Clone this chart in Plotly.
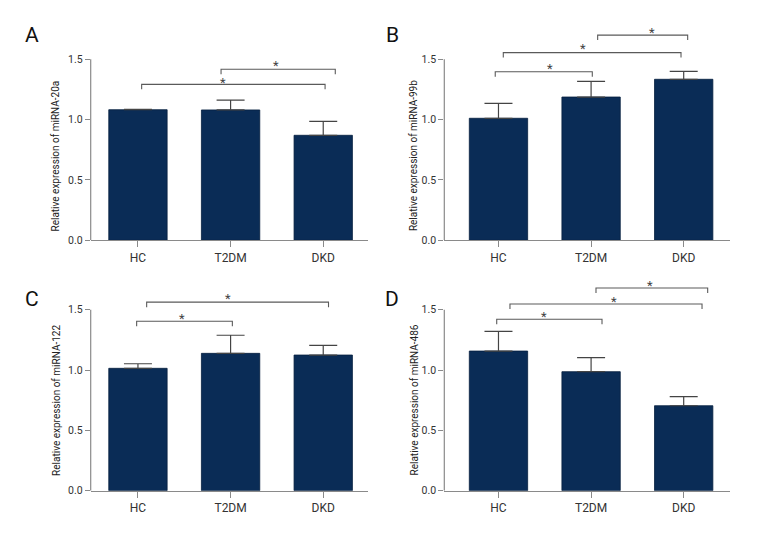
import plotly.graph_objects as go

# ---------------- data ----------------
categories = ["HC", "T2DM", "DKD"]

panel_letters = ["A", "B", "C", "D"]
y_titles = [
    "Relative expression of miRNA-20a",
    "Relative expression of miRNA-99b",
    "Relative expression of miRNA-122",
    "Relative expression of miRNA-486",
]

mir20a_mean = [1.082, 1.080, 0.870]
mir20a_err = [0.003, 0.082, 0.116]

mir99b_mean = [1.011, 1.187, 1.334]
mir99b_err = [0.124, 0.130, 0.066]

mir122_mean = [1.014, 1.138, 1.124]
mir122_err = [0.038, 0.150, 0.080]

mir486_mean = [1.157, 0.986, 0.704]
mir486_err = [0.163, 0.116, 0.075]

y_tick_vals = [0.0, 0.5, 1.0, 1.5]
y_tick_text = ["0.0", "0.5", "1.0", "1.5"]

# significance brackets: (x start, x end, level, star x, star y) in category / value units
mir20a_brackets = [(0.04, 2.02, 1.292, 0.915, 1.336), (0.897, 2.13, 1.417, 1.49, 1.469)]
mir99b_brackets = [(-0.035, 1.013, 1.397, 0.556, 1.447), (0.052, 1.971, 1.555, 0.916, 1.618),
                   (1.071, 2.043, 1.700, 1.661, 1.748)]
mir122_brackets = [(-0.014, 1.019, 1.404, 0.472, 1.450), (0.094, 2.057, 1.562, 0.976, 1.616)]
mir486_brackets = [(-0.019, 1.118, 1.420, 0.495, 1.466), (0.124, 2.198, 1.547, 1.25, 1.594),
                   (1.053, 2.259, 1.680, 1.636, 1.728)]

means = [mir20a_mean, mir99b_mean, mir122_mean, mir486_mean]
errs = [mir20a_err, mir99b_err, mir122_err, mir486_err]
brackets = [mir20a_brackets, mir99b_brackets, mir122_brackets, mir486_brackets]

# ---------------- layout ----------------
W, H = 780, 540
FONT = "Roboto, Liberation Sans, sans-serif"
BAR = "#0a2c56"
AXC = "#8a8a8a"

# pixel boxes of each plot area (left, right, bottom(y=0))
YMAX = 1.75
boxes = [
    (90.7, 367.7, 240.3),
    (444.3, 730.0, 240.3),
    (90.7, 367.7, 490.7),
    (444.3, 730.0, 490.7),
]
px_per_unit = 120.7
xranges = [[-0.51, 2.48], [-0.585, 2.50], [-0.51, 2.48], [-0.585, 2.50]]
letter_pos = [(32, 35), (392, 35), (32, 299), (392, 299)]
title_shift = [-35, -30, -35, -30]
title_center = [0.70, 0.70, 0.75, 0.75]

fig = go.Figure()
layout = dict(
    width=W, height=H,
    margin=dict(l=0, r=0, t=0, b=0),
    paper_bgcolor="white", plot_bgcolor="white",
    showlegend=False,
    font=dict(family=FONT, size=12, color="#333333"),
)
shapes = []
annotations = []

for k in range(4):
    xa = "xaxis" if k == 0 else f"xaxis{k+1}"
    ya = "yaxis" if k == 0 else f"yaxis{k+1}"
    xr = "x" if k == 0 else f"x{k+1}"
    yr = "y" if k == 0 else f"y{k+1}"
    left, right, bottom = boxes[k]
    top = bottom - YMAX * px_per_unit

    fig.add_trace(go.Bar(
        x=list(range(len(categories))), y=means[k], width=0.63,
        marker=dict(color=BAR, line=dict(color="#06203f", width=0.8)),
        error_y=dict(type="data", symmetric=False, array=errs[k],
                     arrayminus=[0] * len(errs[k]), color="#444444",
                     thickness=1.2, width=14),
        xaxis=xr, yaxis=yr, hoverinfo="skip",
    ))

    layout[xa] = dict(
        domain=[left / W, right / W], range=xranges[k], anchor=yr,
        tickmode="array", tickvals=list(range(len(categories))), ticktext=categories,
        showline=True, linecolor=AXC, linewidth=1.2,
        ticks="outside", ticklen=6, tickcolor=AXC, tickwidth=1.2,
        showgrid=False, zeroline=False, fixedrange=True, automargin=False,
        tickfont=dict(family=FONT, size=12, color="#333333"),
    )
    layout[ya] = dict(
        domain=[1 - bottom / H, 1 - top / H], range=[0, YMAX], anchor=xr,
        tickmode="array", tickvals=y_tick_vals, ticktext=y_tick_text,
        showline=False, ticks="outside", ticklen=5, tickcolor=AXC, tickwidth=1.2,
        showgrid=False, zeroline=False, fixedrange=True, automargin=False,
        tickfont=dict(family=FONT, size=10.5, color="#333333"),
    )
    # y axis line only up to the top tick
    shapes.append(dict(type="line", xref=f"{xr} domain", yref=yr, x0=0, x1=0,
                       y0=0, y1=y_tick_vals[-1], line=dict(color=AXC, width=1.2)))

    # y axis title
    annotations.append(dict(
        x=0, y=title_center[k], xref=f"{xr} domain", yref=yr, xshift=title_shift[k],
        text=y_titles[k], textangle=-90, showarrow=False,
        xanchor="center", yanchor="middle",
        font=dict(family=FONT, size=10, color="#222222"),
    ))

    drop = 5 / px_per_unit
    for (x0, x1, lvl, sx, sy) in brackets[k]:
        shapes.append(dict(
            type="path", xref=xr, yref=yr,
            path=f"M {x0},{lvl - drop} L {x0},{lvl} L {x1},{lvl} L {x1},{lvl - drop}",
            line=dict(color="#5a5a5a", width=1.1),
        ))
        annotations.append(dict(
            x=sx, y=sy, xref=xr, yref=yr, text="*", showarrow=False,
            xanchor="center", yanchor="middle", yshift=-3,
            font=dict(family=FONT, size=13, color="#444444"),
        ))

    lx, ly = letter_pos[k]
    annotations.append(dict(
        x=lx / W, y=1 - ly / H, xref="paper", yref="paper", text=panel_letters[k],
        showarrow=False, xanchor="center", yanchor="middle",
        font=dict(family=FONT, size=21, color="#111111"),
    ))

layout["shapes"] = shapes
layout["annotations"] = annotations
fig.update_layout(**layout)
fig.write_html("out.html", config={"displayModeBar": False},
               post_script="document.body.style.margin='0px';")
